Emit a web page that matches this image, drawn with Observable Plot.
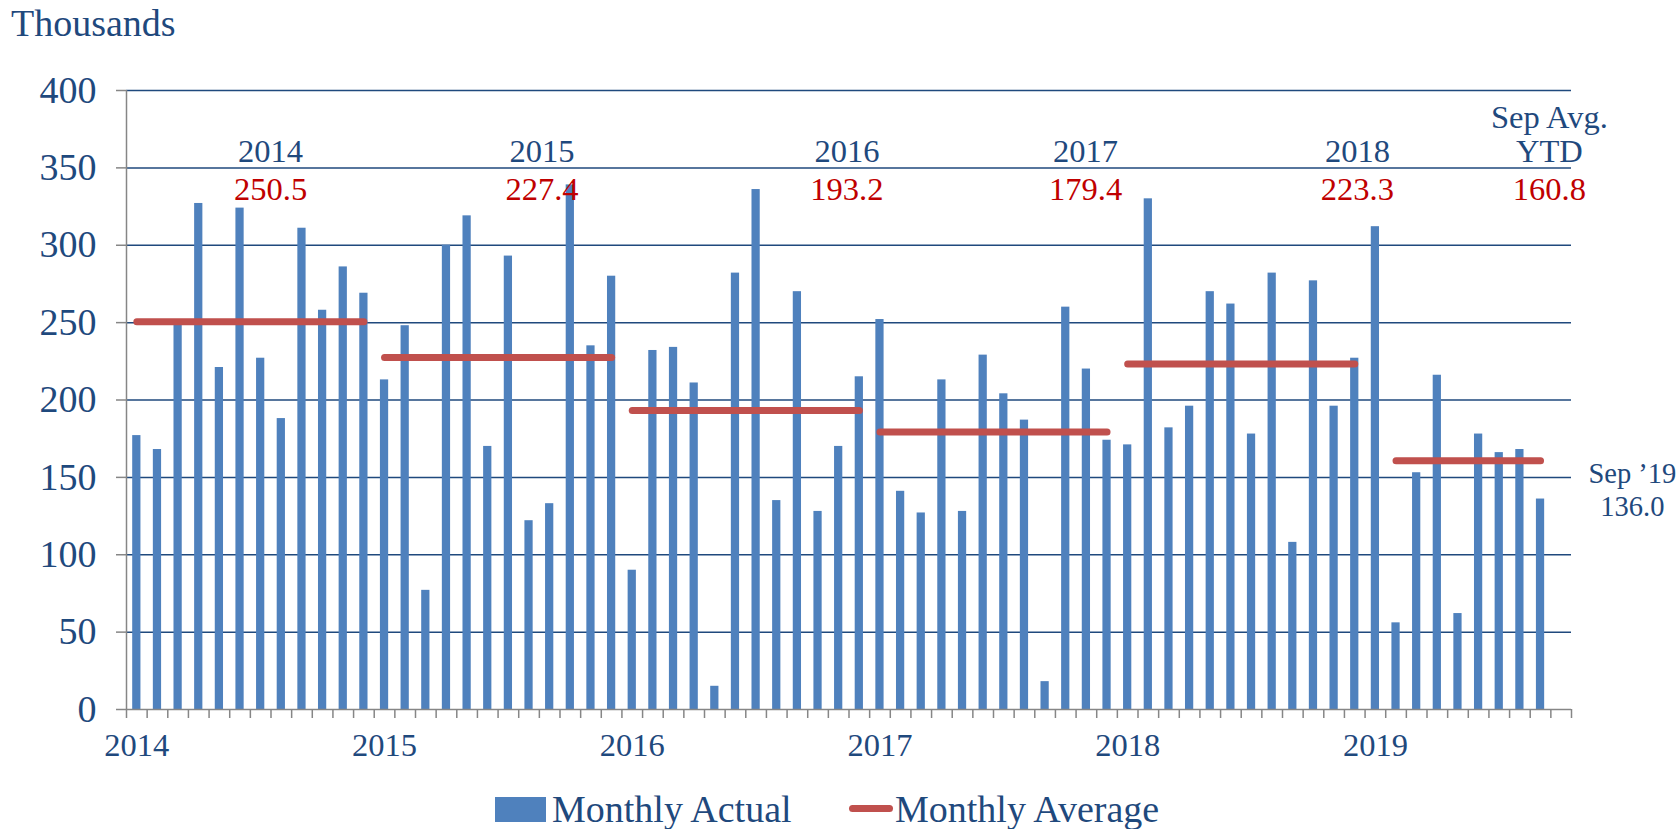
<!DOCTYPE html>
<html>
<head>
<meta charset="utf-8">
<script src="https://cdn.jsdelivr.net/npm/d3@7"></script>
<script src="https://cdn.jsdelivr.net/npm/@observablehq/plot@0.6"></script>
<style>
  html, body { margin: 0; padding: 0; background: #fff; }
  body { font-family: "Liberation Serif", "Times New Roman", serif; color: #1F497D; }
  #wrap { position: relative; width: 1680px; height: 829px; overflow: hidden; }
  #title { height: 46px; line-height: 46px; font-size: 38px; padding-left: 11px; white-space: nowrap; }
  #chart svg { display: block; }
  #legend { position: relative; height: 69px; }
  #legend .sw-bar { position: absolute; left: 495px; top: 37px; width: 51px; height: 25px; background: #4F81BD; }
  #legend .sw-line { position: absolute; left: 849px; top: 45px; width: 44px; height: 7px; border-radius: 3.5px; background: #C0504D; }
  #legend .lbl { position: absolute; top: 30px; font-size: 38px; line-height: 38px; white-space: nowrap; color: #1F497D; }
</style>
</head>
<body>
<div id="wrap">
  <div id="title">Thousands</div>
  <div id="chart"></div>
  <div id="legend">
    <div class="sw-bar"></div><div class="lbl" style="left:552px">Monthly Actual</div>
    <div class="sw-line"></div><div class="lbl" style="left:895px">Monthly Average</div>
  </div>
</div>
<script>
// ---- data (thousands) ----
const years = [2014, 2015, 2016, 2017, 2018, 2019];
const actual2014 = [177, 168, 250, 327, 221, 324, 227, 188, 311, 258, 286, 269];
const actual2015 = [213, 248, 77, 300, 319, 170, 293, 122, 133, 339, 235, 280];
const actual2016 = [90, 232, 234, 211, 15, 282, 336, 135, 270, 128, 170, 215];
const actual2017 = [252, 141, 127, 213, 128, 229, 204, 187, 18, 260, 220, 174];
const actual2018 = [171, 330, 182, 196, 270, 262, 178, 282, 108, 277, 196, 227];
const actual2019 = [312, 56, 153, 216, 62, 178, 166, 168, 136];
const yearAverages = [250.5, 227.4, 193.2, 179.4, 223.3, 160.8];
const averageFirstMonth = [1, 1, 1, 1, 1, 2];
const averageLastMonth = [12, 12, 12, 12, 12, 9];
const yearLabels = ["2014", "2015", "2016", "2017", "2018", "YTD"];
const ytdHeader = "Sep Avg.";
const latestLabel = "Sep \u201919";
const yTicks = [0, 50, 100, 150, 200, 250, 300, 350, 400];
const slotCount = 70; // monthly category slots, Jan 2014 – Oct 2019

// ---- build tables ----
const actualByYear = [actual2014, actual2015, actual2016, actual2017, actual2018, actual2019];
const rows = [];
actualByYear.forEach((vals, k) => vals.forEach((v, m) => rows.push({year: years[k], month: m + 1, i: k * 12 + m, value: v})));
const averageRows = years.map((y, k) => ({
  year: y,
  avg: yearAverages[k],
  x1: k * 12 + averageFirstMonth[k] - 1 + 0.5,
  x2: k * 12 + averageLastMonth[k] - 1 + 0.5,
  label: yearLabels[k]
}));
// annotation placement (category units, as placed on the original chart)
const labelSlot = [6.98, 20.13, 34.9, 46.46, 59.63, 68.93];
averageRows.forEach((d, k) => d.lx = labelSlot[k]);
const last = rows[rows.length - 1];
const janCenters = years.map((y, k) => k * 12 + 0.5);

const navy = "#1F497D", gray = "#868686", blue = "#4F81BD", red = "#C0504D", redText = "#C00000";
const bigFont = 38, smallFont = 32.5, noteFont = 28.5;

const chart = Plot.plot({
  width: 1680,
  height: 714,
  marginTop: 44,
  marginBottom: 51,
  marginLeft: 126,
  marginRight: 109,
  style: {fontFamily: "Liberation Serif, Times New Roman, serif", background: "white", overflow: "visible"},
  x: {type: "linear", domain: [0, slotCount]},
  y: {domain: [0, 400]},
  marks: [
    Plot.gridY(yTicks.filter(t => t > 0), {stroke: navy, strokeOpacity: 1, strokeWidth: 1.5}),
    Plot.rectY(rows, {x1: "i", x2: d => d.i + 1, y1: 0, y2: "value", insetLeft: 6.2, insetRight: 6.2, fill: blue}),
    Plot.ruleY([0], {stroke: gray, strokeWidth: 1.5}),
    Plot.ruleX([0], {stroke: gray, strokeWidth: 1.5}),
    Plot.axisY(yTicks, {tickSize: 10, tickPadding: 20, stroke: gray, strokeWidth: 1.5, fill: navy, fontSize: bigFont, label: null}),
    Plot.axisX(d3.range(0, slotCount + 1), {tickSize: 9, stroke: gray, strokeWidth: 1.5, tickFormat: () => "", label: null}),
    Plot.axisX(janCenters, {tickSize: 0, tickPadding: 23, fill: navy, fontSize: smallFont, tickFormat: d => String(years[Math.floor(d / 12)]), label: null}),
    Plot.link(averageRows, {x1: "x1", x2: "x2", y1: "avg", y2: "avg", stroke: red, strokeWidth: 7, strokeLinecap: "round"}),
    Plot.text(averageRows, {x: "lx", y: 360.5, text: "label", fill: navy, fontSize: smallFont}),
    Plot.text(averageRows.slice(-1), {x: "lx", y: 382.5, text: () => ytdHeader, fill: navy, fontSize: smallFont}),
    Plot.text(averageRows, {x: "lx", y: 336.1, text: d => d.avg.toFixed(1), fill: redText, fontSize: smallFont}),
    Plot.text([last], {x: 72.95, y: 152.0, text: () => latestLabel, fill: navy, fontSize: noteFont}),
    Plot.text([last], {x: 72.95, y: 131.0, text: d => d.value.toFixed(1), fill: navy, fontSize: noteFont})
  ]
});
document.getElementById("chart").appendChild(chart);
</script>
</body>
</html>
